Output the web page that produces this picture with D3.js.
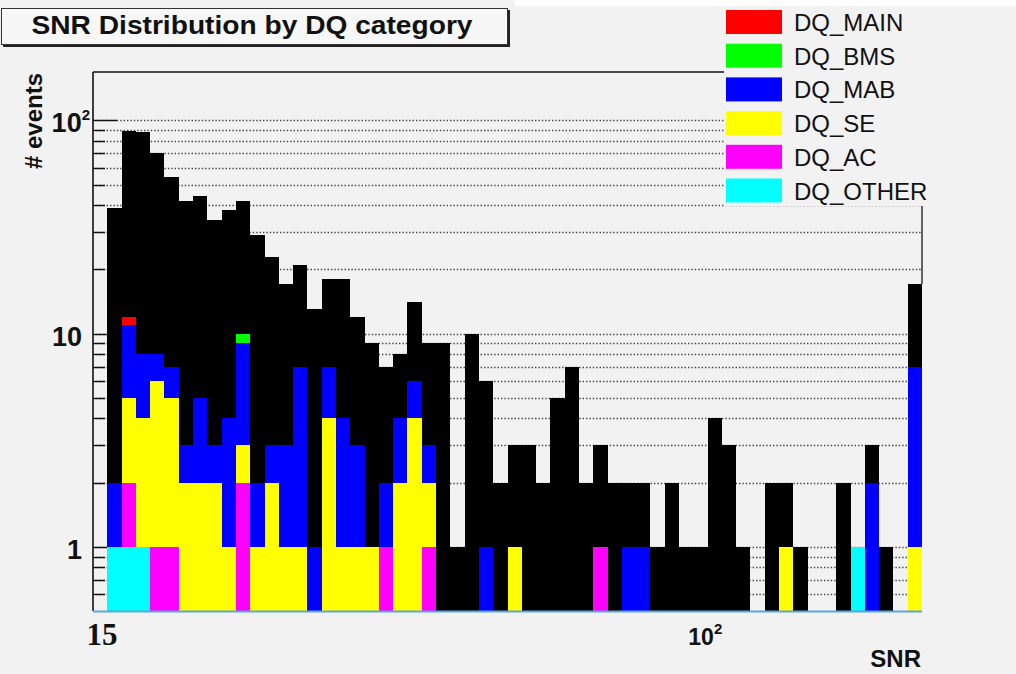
<!DOCTYPE html>
<html>
<head>
<meta charset="utf-8">
<script src="https://cdn.jsdelivr.net/npm/d3@7"></script>
<style>
  html, body { margin: 0; padding: 0; background: #f2f2f2; }
  svg { display: block; }
  text { font-family: "Liberation Sans", Arial, Helvetica, sans-serif; fill: #111; }
</style>
</head>
<body>
<svg id="chart" width="1016" height="674"></svg>
<script>
// ---- data (58 log-spaced SNR bins, first bin empty) ----
const snrMin = 14.35;
const snrMax = 198;
const nBins = 58;

const totalCounts = [0, 39, 89, 88, 70, 54, 42, 44, 34, 38, 42, 29, 23, 17, 21, 13, 18, 18, 12, 9,
  7, 8, 14, 9, 9, 1, 10, 6, 2, 3, 3, 2, 5, 7, 2, 3, 2, 2, 2, 1,
  2, 1, 1, 4, 3, 1, 0, 2, 2, 1, 0, 0, 2, 1, 3, 1, 0, 17];

const dqOther = [0, 1, 1, 1, 0, 0, 0, 0, 0, 0, 0, 0, 0, 0, 0, 0, 0, 0, 0, 0,
  0, 0, 0, 0, 0, 0, 0, 0, 0, 0, 0, 0, 0, 0, 0, 0, 0, 0, 0, 0,
  0, 0, 0, 0, 0, 0, 0, 0, 0, 0, 0, 0, 0, 1, 0, 0, 0, 0];
const dqAC = [0, 0, 1, 0, 1, 1, 0, 0, 0, 0, 2, 0, 0, 0, 0, 0, 0, 0, 0, 0,
  1, 0, 0, 1, 0, 0, 0, 0, 0, 0, 0, 0, 0, 0, 0, 1, 0, 0, 0, 0,
  0, 0, 0, 0, 0, 0, 0, 0, 0, 0, 0, 0, 0, 0, 0, 0, 0, 0];
const dqSE = [0, 0, 3, 3, 5, 4, 2, 2, 2, 1, 1, 1, 2, 1, 1, 0, 4, 1, 1, 1,
  0, 2, 4, 1, 0, 0, 0, 0, 0, 1, 0, 0, 0, 0, 0, 0, 0, 0, 0, 0,
  0, 0, 0, 0, 0, 0, 0, 0, 1, 0, 0, 0, 0, 0, 0, 0, 0, 1];
const dqMAB = [0, 1, 6, 4, 2, 2, 1, 3, 1, 3, 6, 1, 1, 2, 6, 1, 3, 3, 2, 0,
  1, 2, 2, 1, 0, 0, 0, 1, 0, 0, 0, 0, 0, 0, 0, 0, 0, 1, 1, 0,
  0, 0, 0, 0, 0, 0, 0, 0, 0, 0, 0, 0, 0, 0, 2, 0, 0, 6];
const dqBMS = [0, 0, 0, 0, 0, 0, 0, 0, 0, 0, 1, 0, 0, 0, 0, 0, 0, 0, 0, 0,
  0, 0, 0, 0, 0, 0, 0, 0, 0, 0, 0, 0, 0, 0, 0, 0, 0, 0, 0, 0,
  0, 0, 0, 0, 0, 0, 0, 0, 0, 0, 0, 0, 0, 0, 0, 0, 0, 0];
const dqMAIN = [0, 0, 1, 0, 0, 0, 0, 0, 0, 0, 0, 0, 0, 0, 0, 0, 0, 0, 0, 0,
  0, 0, 0, 0, 0, 0, 0, 0, 0, 0, 0, 0, 0, 0, 0, 0, 0, 0, 0, 0,
  0, 0, 0, 0, 0, 0, 0, 0, 0, 0, 0, 0, 0, 0, 0, 0, 0, 0];

// stacking order bottom -> top
const seriesNames = ["DQ_OTHER", "DQ_AC", "DQ_SE", "DQ_MAB", "DQ_BMS", "DQ_MAIN"];
const seriesValues = [dqOther, dqAC, dqSE, dqMAB, dqBMS, dqMAIN];
const seriesColors = ["#00ffff", "#ff00ff", "#ffff00", "#0000ff", "#00ff00", "#ff0000"];
// legend order top -> bottom
const legendNames = ["DQ_MAIN", "DQ_BMS", "DQ_MAB", "DQ_SE", "DQ_AC", "DQ_OTHER"];

const yMin = 0.5, yMax = 168.7;
const yMajorTicks = [1, 10, 100];
const yGridValues = [0.6, 0.7, 0.8, 0.9, 1, 2, 3, 4, 5, 6, 7, 8, 9, 10, 20, 30, 40, 50, 60, 70, 80, 90, 100];

// ---- layout ----
const svg = d3.select("#chart");
const L = 93, R = 922, T = 72, B = 611;
const bg = "#f2f2f2";

const x = d3.scaleLog().domain([snrMin, snrMax]).range([L, R]);
const y = d3.scaleLog().domain([yMin, yMax]).range([B, T]).clamp(true);

const edges = d3.range(nBins + 1).map(k => snrMin * Math.pow(snrMax / snrMin, k / nBins));
const bins = d3.range(nBins).map(i => ({ i, x0: edges[i], x1: edges[i + 1] }));
const px = v => Math.round(x(v));
const py = v => Math.round(y(v));

svg.append("rect").attr("width", 1016).attr("height", 674).attr("fill", bg);
svg.append("rect").attr("x", 515).attr("y", 0).attr("width", 501).attr("height", 6).attr("fill", "#ffffff");

// gridlines
svg.append("g").selectAll("line").data(yGridValues).join("line")
  .attr("x1", L).attr("x2", R)
  .attr("y1", d => py(d) + 0.5).attr("y2", d => py(d) + 0.5)
  .attr("stroke", "#444").attr("stroke-width", 1.3).attr("stroke-dasharray", "1.4 2");

// y ticks (drawn under bars)
svg.append("g").selectAll("line").data(yGridValues).join("line")
  .attr("x1", L).attr("x2", d => L + (yMajorTicks.includes(d) ? 24 : 12))
  .attr("y1", d => py(d) + 0.5).attr("y2", d => py(d) + 0.5)
  .attr("stroke", "#111").attr("stroke-width", 1.4);

// total histogram (black)
svg.append("g").attr("shape-rendering", "crispEdges")
  .selectAll("rect").data(bins.filter(b => totalCounts[b.i] > 0)).join("rect")
  .attr("x", b => px(b.x0)).attr("width", b => px(b.x1) - px(b.x0))
  .attr("y", b => py(totalCounts[b.i])).attr("height", b => B - py(totalCounts[b.i]))
  .attr("fill", "#000");

// stacked DQ categories
const table = bins.map(b => {
  const row = { i: b.i, x0: b.x0, x1: b.x1 };
  seriesNames.forEach((n, k) => row[n] = seriesValues[k][b.i]);
  return row;
});
const stacked = d3.stack().keys(seriesNames)(table);
stacked.forEach((layer, k) => {
  svg.append("g").attr("shape-rendering", "crispEdges")
    .selectAll("rect").data(layer.filter(d => d[1] > d[0])).join("rect")
    .attr("x", d => px(d.data.x0)).attr("width", d => px(d.data.x1) - px(d.data.x0))
    .attr("y", d => py(d[1]))
    .attr("height", d => py(Math.max(d[0], yMin)) - py(d[1]))
    .attr("fill", seriesColors[k]);
});

// frame
svg.append("line").attr("x1", L).attr("x2", R).attr("y1", T).attr("y2", T).attr("stroke", "#111").attr("stroke-width", 1.5);
svg.append("line").attr("x1", R).attr("x2", R).attr("y1", T).attr("y2", py(totalCounts[nBins - 1])).attr("stroke", "#333").attr("stroke-width", 1.5);
svg.append("line").attr("x1", L).attr("x2", L).attr("y1", T).attr("y2", B).attr("stroke", "#111").attr("stroke-width", 1.6);
svg.append("line").attr("x1", L).attr("x2", R).attr("y1", B + 0.5).attr("y2", B + 0.5).attr("stroke", "#5fa5d9").attr("stroke-width", 2);

// y tick labels
const yLab = svg.append("g").attr("font-weight", "bold").attr("font-size", 27).attr("text-anchor", "end");
yMajorTicks.forEach(v => {
  const t = yLab.append("text").attr("x", 82).attr("y", y(v) + 12);
  if (v === 100) {
    t.append("tspan").text("10");
    t.append("tspan").attr("font-size", 15).attr("dy", -12).text("2");
    t.attr("x", 90);
  } else {
    t.text(String(v));
  }
});

// x tick labels
svg.append("text").attr("x", x(15) - 5).attr("y", 645).attr("text-anchor", "middle")
  .style("font-family", "'Liberation Serif', 'Times New Roman', serif")
  .attr("font-weight", "bold").attr("font-size", 31).text("15");
const x100 = svg.append("text").attr("y", 645).attr("text-anchor", "end")
  .attr("font-weight", "bold").attr("font-size", 23);
x100.append("tspan").text("10");
x100.append("tspan").attr("font-size", 15).attr("dy", -11).text("2");
x100.attr("x", x(100) + 16);

// axis titles
svg.append("text").attr("x", 921).attr("y", 667).attr("text-anchor", "end")
  .attr("font-weight", "bold").attr("font-size", 24).text("SNR");
svg.append("text").attr("transform", "translate(42,121) rotate(-90)").attr("text-anchor", "middle")
  .attr("font-weight", "bold").attr("font-size", 24).text("# events");

// legend (covers frame corner)
svg.append("rect").attr("x", 724).attr("y", 6).attr("width", 292).attr("height", 200).attr("fill", bg);
const lg = svg.append("g");
legendNames.forEach((n, k) => {
  const c = seriesColors[seriesNames.indexOf(n)];
  const cy = 22 + k * 33.7;
  lg.append("rect").attr("x", 726).attr("y", cy - 12).attr("width", 56).attr("height", 24).attr("fill", c);
  lg.append("text").attr("x", 794).attr("y", cy + 9).attr("font-size", 24).text(n);
});

// title box
svg.append("rect").attr("x", 3).attr("y", 10).attr("width", 507).attr("height", 37).attr("fill", "#222");
svg.append("rect").attr("x", 1.5).attr("y", 8.5).attr("width", 506).attr("height", 36).attr("fill", "#f7f7f7").attr("stroke", "#333").attr("stroke-width", 1);
svg.append("text").attr("x", 252).attr("y", 34).attr("text-anchor", "middle")
  .attr("font-weight", "bold").attr("font-size", 26)
  .attr("textLength", 441).attr("lengthAdjust", "spacingAndGlyphs")
  .text("SNR Distribution by DQ category");
</script>
</body>
</html>
